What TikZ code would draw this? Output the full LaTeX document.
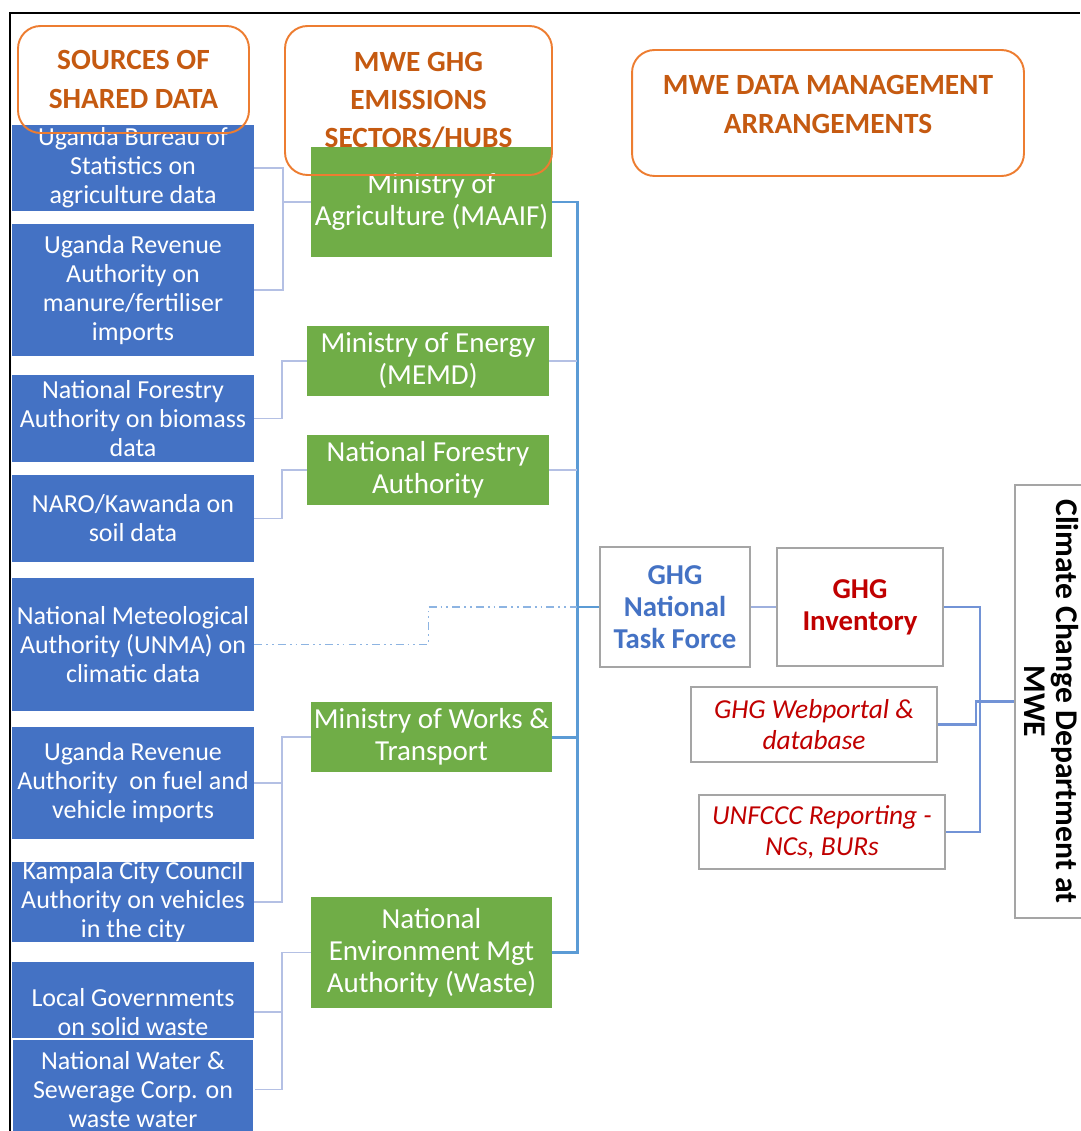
\documentclass[tikz,border=0pt]{standalone}
\usepackage{fontspec}
\setmainfont{Carlito}
\usepackage{xcolor}
\usepackage{tikz}
\usetikzlibrary{positioning}

\definecolor{srcblue}{HTML}{4472C4}
\definecolor{hubgreen}{HTML}{70AD47}
\definecolor{headline}{HTML}{ED7D31}
\definecolor{headtext}{HTML}{C55A11}
\definecolor{boxgrey}{HTML}{A5A5A5}
\definecolor{thinlink}{HTML}{B4C0E4}
\definecolor{trunkblue}{HTML}{5B9BD5}
\definecolor{mgtblue}{HTML}{7293D6}
\definecolor{dashblue}{HTML}{8DB4E2}
\definecolor{invred}{HTML}{C00000}

\begin{document}
\begin{tikzpicture}[x=0.02cm, y=-0.02cm, every node/.style={align=center, inner sep=0pt},
    source/.style={fill=srcblue, text=white, minimum width=4.84cm, font=\fontsize{14.8}{16.5}\selectfont},
    hub/.style={fill=hubgreen, text=white, font=\fontsize{16.5}{18.2}\selectfont},
    mgt/.style={draw=boxgrey, line width=1.4pt, fill=white},
    header/.style={draw=headline, line width=1.1pt, rounded corners=0.45cm, text=headtext, font=\bfseries\fontsize{16.7}{21.8}\selectfont},
    srcline/.style={draw=thinlink, line width=1.1pt},
    trunk/.style={draw=trunkblue, line width=1.7pt},
    mgtline/.style={draw=mgtblue, line width=1.3pt}]
                \useasboundingbox (0,0) rectangle (1080,1131);
                \draw[line width=1.1pt] (10,1131) |- (1080,13);

                % sources of shared data
                \node[source, minimum height=1.72cm] (b1) at (133,168) {Uganda Bureau of\\Statistics on\\agriculture data};
                \node[source, minimum height=2.64cm] (b2) at (133,290) {Uganda Revenue\\Authority on\\manure/fertiliser\\imports};
                \node[source, minimum height=1.74cm] (b3) at (133,418.5) {National Forestry\\Authority on biomass\\data};
                \node[source, minimum height=1.74cm] (b4) at (133,518.5) {NARO/Kawanda on\\soil data};
                \node[source, minimum height=2.66cm] (b5) at (133,644.5) {National Meteological\\Authority (UNMA) on\\climatic data};
                \node[source, minimum height=2.24cm] (b6) at (133,783) {Uganda Revenue\\Authority~ on fuel and\\vehicle imports};
                \node[source, minimum height=1.6cm] (b7) at (133,902) {Kampala City Council\\Authority on vehicles\\in the city};
                \node[source, minimum height=2cm] (b8) at (133,1012) {Local Governments\\on solid waste};
                \node[source, draw=white, line width=1.5pt, minimum height=2.02cm] (b9) at (133,1089.5) {National Water \&\\Sewerage Corp. on\\waste water};

                % sectors / hubs
                \node[hub, minimum width=4.82cm, minimum height=2.2cm] (g1) at (431.5,202) {Ministry of\\Agriculture (MAAIF)};
                \node[hub, minimum width=4.84cm, minimum height=1.4cm] (g2) at (428,361) {Ministry of Energy\\(MEMD)};
                \node[hub, minimum width=4.84cm, minimum height=1.4cm] (g3) at (428,470) {National Forestry\\Authority};
                \node[hub, minimum width=4.82cm, minimum height=1.4cm] (g4) at (431.5,737) {Ministry of Works \&\\Transport};
                \node[hub, minimum width=4.82cm, minimum height=2.22cm] (g5) at (431.5,952.5) {National\\Environment Mgt\\Authority (Waste)};

                % data management
                \node[mgt, minimum width=3cm, minimum height=2.4cm, text=srcblue, font=\bfseries\fontsize{16.4}{18.4}\selectfont] (t1) at (675,607) {GHG\\National\\Task Force};
                \node[mgt, minimum width=3.32cm, minimum height=2.36cm, text=invred, font=\bfseries\fontsize{16.4}{18.2}\selectfont] (t2) at (860,607) {GHG\\Inventory};
                \node[mgt, minimum width=4.92cm, minimum height=1.5cm, text=invred, font=\itshape\fontsize{15.6}{17.6}\selectfont] (t3) at (814,724.5) {GHG Webportal \&\\database};
                \node[mgt, minimum width=4.92cm, minimum height=1.48cm, text=invred, font=\itshape\fontsize{15.6}{17.6}\selectfont] (t4) at (822,832) {UNFCCC Reporting -\\NCs, BURs};
                \node[mgt, rotate=-90, minimum width=8.66cm, minimum height=1.48cm, font=\bfseries\fontsize{18}{18.2}\selectfont] (t5) at (1052,701.5) {Climate Change Department at\\MWE};

                % sources to hubs
                \draw[srcline] (b1.east) -- ++(29,0) coordinate (k1) |- (b2.east);
                \draw[srcline] (k1 |- g1.west) -- (g1.west);
                \draw[srcline] (b3.east) -- ++(28,0) |- (g2.west);
                \draw[srcline] (b4.east) -- ++(28,0) |- (g3.west);
                \draw[srcline] (g4.west) -- ++(-29,0) coordinate (k4) |- (b7.east);
                \draw[srcline] (b6.east) -- (b6.east -| k4);
                \draw[srcline] (g5.west) -- ++(-29,0) coordinate (k5) |- (b9.east);
                \draw[srcline] (b8.east) -- (b8.east -| k5);

                % hubs to task force
                \draw[trunk] (g1.east) -- ++(25,0) coordinate (k6) |- (g5.east);
                \draw[trunk] (g4.east) -- (g4.east -| k6);
                \draw[srcline] (g2.east) -- (g2.east -| k6);
                \draw[srcline] (g3.east) -- (g3.east -| k6);
                \draw[trunk] (k6 |- t1.west) -- (t1.west);
                \draw[draw=dashblue, line width=0.8pt, dash pattern=on 4.5pt off 2.3pt on 1pt off 2.3pt on 1pt off 2.3pt] (b5.east) -- ++(174,0) |- (k6 |- t1.west);

                % task force to department
                \draw[draw=thinlink!80!srcblue, line width=1.1pt] (t1) -- (t2);
                \draw[mgtline] (t2.east) -- ++(36,0) |- (t4.east);
                \draw[mgtline] (t3.east) -- ++(38,0) |- (t5.south);

                % headings
                \node[header, minimum width=4.62cm, minimum height=2.14cm] (shared) at (133.5,79.5) {SOURCES OF\\SHARED DATA};
                \node[header, minimum width=5.34cm, minimum height=2.98cm] (hubs) at (418.5,100.5) {MWE GHG\\EMISSIONS\\SECTORS/HUBS};
                \node[header, minimum width=7.84cm, minimum height=2.52cm, text depth=0.34cm] (arrange) at (828,113) {MWE DATA MANAGEMENT\\ARRANGEMENTS};
            \end{tikzpicture}
\end{document}
